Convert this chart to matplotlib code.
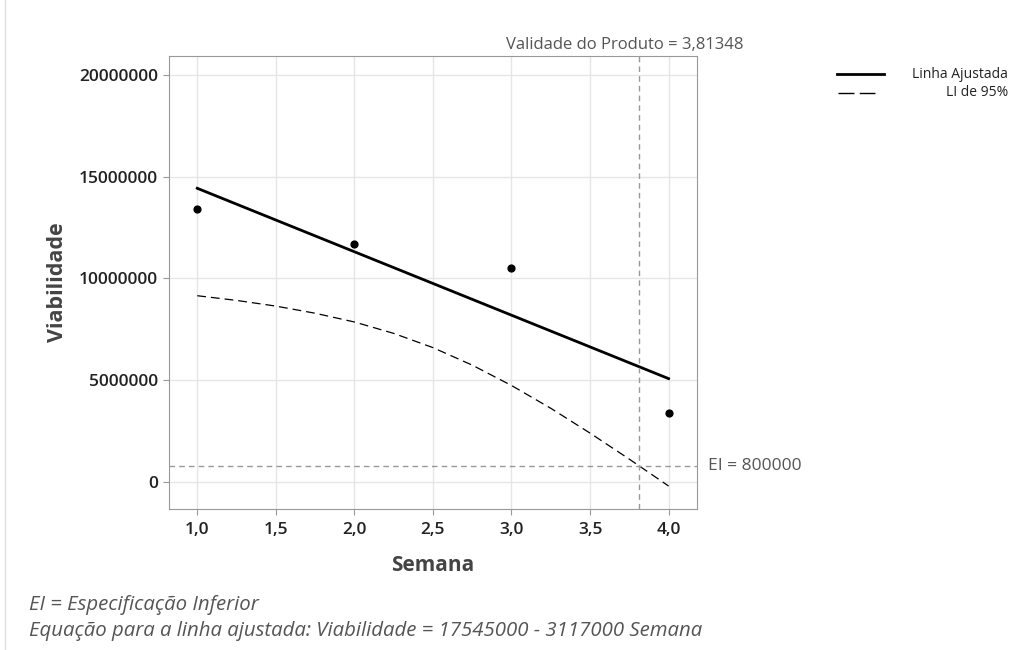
import matplotlib
matplotlib.use('Agg')
import matplotlib.pyplot as plt
from matplotlib.lines import Line2D
from matplotlib.ticker import FuncFormatter

plt.rcParams['font.family'] = ['Open Sans', 'DejaVu Sans']

# data
semana = [1, 2, 3, 4]
viabilidade = [13400000, 11700000, 10500000, 3400000]
intercept, slope = 17545000, -3117000
li_x = [1.0, 1.25, 1.5, 1.75, 2.0, 2.25, 2.5, 2.75, 3.0, 3.25, 3.5, 3.75, 4.0]
li_y = [9150000, 8920000, 8640000, 8290000, 7860000, 7300000, 6600000,
        5740000, 4740000, 3620000, 2400000, 1120000, -200000]
ei = 800000
validade = 3.81348
x_ticks = [1.0, 1.5, 2.0, 2.5, 3.0, 3.5, 4.0]
y_ticks = [0, 5000000, 10000000, 15000000, 20000000]

fig = plt.figure(figsize=(10.33, 6.5), dpi=100)
ax = fig.add_axes([0.1636, 0.2169, 0.511, 0.697])

ax.grid(color='#e6e6e6', lw=1)
ax.set_axisbelow(True)

fit_x = [semana[0], semana[-1]]
fit_y = [intercept + slope * x for x in fit_x]
ax.plot(fit_x, fit_y, color='black', lw=2)
ax.plot(li_x, li_y, color='black', lw=0.9, dashes=(7, 4))
ax.scatter(semana, viabilidade, s=24, color='black', zorder=3)

ax.axhline(ei, color='#999999', lw=1, ls=(0, (4, 3)))
ax.axvline(validade, color='#999999', lw=1, ls=(0, (4, 3)))

ax.set_xlim(0.82, 4.18)
ax.set_ylim(-1330000, 20930000)
ax.set_xticks(x_ticks)
ax.set_yticks(y_ticks)
ax.xaxis.set_major_formatter(FuncFormatter(lambda v, p: f'{v:.1f}'.replace('.', ',')))
ax.yaxis.set_major_formatter(FuncFormatter(lambda v, p: f'{int(v)}'))
ax.tick_params(colors='#999999', labelcolor='#222222', labelsize=12.5, length=4.5)
ax.tick_params(axis='x', pad=5)
for lab in ax.get_xticklabels() + ax.get_yticklabels():
    lab.set_fontweight('semibold')
for s in ax.spines.values():
    s.set_color('#999999')

ax.set_xlabel('Semana', fontsize=15, fontweight='bold', color='#444444', labelpad=12)
ax.set_ylabel('Viabilidade', fontsize=15.5, fontweight='bold', color='#444444', labelpad=8)

fig.text(625 / 1033, 1 - 45 / 650, 'Validade do Produto = 3,81348', ha='center',
         va='center', fontsize=12, color='#555555')
ax.text(4.18 + 0.07, ei, 'EI = 800000', ha='left', va='center',
        fontsize=12.5, color='#555555', clip_on=False)

# legend drawn by hand to right-align the labels
fig.add_artist(Line2D([837 / 1033, 884 / 1033], [1 - 74 / 650] * 2, color='black', lw=2))
fig.add_artist(Line2D([838 / 1033, 875 / 1033], [1 - 93 / 650] * 2, color='black',
                      lw=1, dashes=(11.5, 3.8)))
fig.text(1008 / 1033, 1 - 74 / 650, 'Linha Ajustada', ha='right', va='center', fontsize=10, color='#222222')
fig.text(1008 / 1033, 1 - 93 / 650, 'LI de 95%', ha='right', va='center', fontsize=10, color='#222222')

fig.add_artist(Line2D([5 / 1033] * 2, [0, 1], color='#e0e0e0', lw=1))

fig.text(29 / 1033, 1 - 605 / 650, 'EI = Especificação Inferior', ha='left', va='center',
         fontsize=14.7, style='italic', color='#555555')
fig.text(29 / 1033, 1 - 631 / 650,
         'Equação para a linha ajustada: Viabilidade = 17545000 - 3117000 Semana',
         ha='left', va='center', fontsize=14.7, style='italic', color='#555555')

fig.savefig('out.png', dpi=100)
